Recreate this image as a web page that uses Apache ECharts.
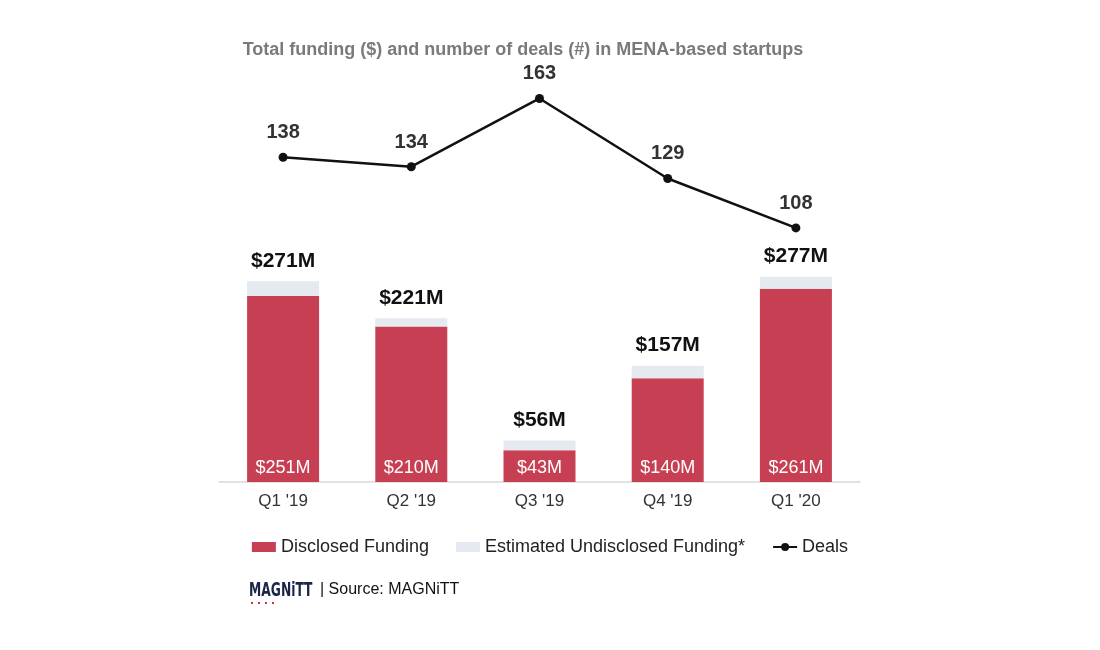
<!DOCTYPE html>
<html>
<head>
<meta charset="utf-8">
<script src="https://cdn.jsdelivr.net/npm/echarts@6/dist/echarts.min.js"></script>
<style>
html,body{margin:0;padding:0;background:#fff;}
#chart{width:1100px;height:650px;}
</style>
</head>
<body>
<div id="chart"></div>
<script>
const categories = ["Q1 '19", "Q2 '19", "Q3 '19", "Q4 '19", "Q1 '20"];
const disclosed = [251, 210, 43, 140, 261];
const totals = [271, 221, 56, 157, 277];
const deals = [138, 134, 163, 129, 108];

const undisclosed = totals.map((t, i) => t - disclosed[i]);
const FONT = 'Arial, "Liberation Sans", Helvetica, sans-serif';

const chart = echarts.init(document.getElementById('chart'));
chart.setOption({
  animation: false,
  backgroundColor: '#ffffff',
  textStyle: { fontFamily: FONT },
  title: {
    text: 'Total funding ($) and number of deals (#) in MENA-based startups',
    left: 518, textAlign: 'center', top: 36,
    textStyle: { fontSize: 18, fontWeight: 'bold', color: '#7a7a7a', fontFamily: FONT }
  },
  legend: {
    top: 533, left: 'center', itemGap: 27,
    itemWidth: 24, itemHeight: 10,
    textStyle: { fontSize: 18, color: '#222', fontFamily: FONT },
    data: [
      { name: 'Disclosed Funding', icon: 'rect' },
      { name: 'Estimated Undisclosed Funding*', icon: 'rect' },
      { name: 'Deals' }
    ]
  },
  grid: { left: 219, right: 240, top: 82, bottom: 168 },
  xAxis: {
    type: 'category', data: categories,
    axisLine: { lineStyle: { color: '#d9d9d9', width: 1.5 } },
    axisTick: { show: false },
    axisLabel: { fontSize: 17, color: '#333', margin: 11, fontFamily: FONT }
  },
  yAxis: [
    { type: 'value', min: 0, max: 540, show: false, splitLine: { show: false } },
    { type: 'value', min: 0, max: 170, show: false, splitLine: { show: false } }
  ],
  series: [
    {
      name: 'Disclosed Funding', type: 'bar', stack: 'f', barWidth: 72,
      data: disclosed,
      itemStyle: { color: '#c73f52' },
      label: {
        show: true, position: 'insideBottom', distance: 5,
        formatter: p => '$' + p.value + 'M',
        color: '#fff', fontSize: 18, fontFamily: FONT
      }
    },
    {
      name: 'Estimated Undisclosed Funding*', type: 'bar', stack: 'f', barWidth: 72,
      data: undisclosed,
      itemStyle: { color: '#e5e9f0' },
      label: {
        show: true, position: 'top', distance: 10,
        formatter: p => '$' + totals[p.dataIndex] + 'M',
        color: '#111', fontSize: 21, fontWeight: 'bold', fontFamily: FONT
      }
    },
    {
      name: 'Deals', type: 'line', yAxisIndex: 1, data: deals,
      symbol: 'circle', symbolSize: 9,
      lineStyle: { color: '#111', width: 2.5 },
      itemStyle: { color: '#111' },
      label: {
        show: true, position: 'top', distance: 10,
        color: '#333', fontSize: 20, fontWeight: 'bold', fontFamily: FONT
      }
    }
  ],
  graphic: [
    {
      type: 'text', x: 249, y: 582, scaleX: 0.72, scaleY: 1,
      style: { text: 'MAGNiTT', fontSize: 19, fontWeight: 'bold', fill: '#1d2547',
               fontFamily: '"DejaVu Sans Condensed", "DejaVu Sans", sans-serif' }
    },
    {
      type: 'line', z: 10,
      shape: { x1: 251, y1: 603, x2: 278, y2: 603 },
      style: { stroke: '#d0304a', lineWidth: 2, lineDash: [2, 5] }
    },
    {
      type: 'text', x: 320, y: 582,
      style: { text: '| Source: MAGNiTT', fontSize: 16, fill: '#111', fontFamily: FONT }
    }
  ]
});
</script>
</body>
</html>
